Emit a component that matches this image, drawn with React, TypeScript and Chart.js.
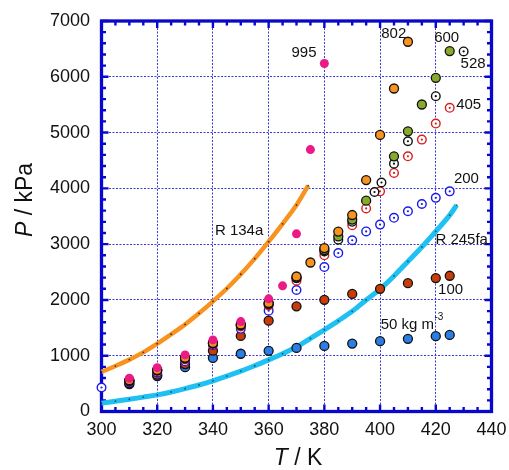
import React, { useEffect, useRef } from "react";
import { Chart, registerables } from "chart.js";
Chart.register(...registerables);

// ---------- data ----------
const pinkT = [310, 320, 330, 340, 350, 360, 365, 370, 375, 380];
const pinkP = [596, 786, 1014, 1283, 1612, 2020, 2253, 3185, 4695, 6238];

const d802T = [310, 320, 330, 340, 350, 360, 370, 375, 380, 385, 390, 395, 400, 405, 410];
const d802P = [560, 745, 965, 1230, 1560, 1945, 2420, 2671, 2930, 3225, 3522, 4148, 4958, 5790, 6628];

const d600T = [310, 320, 330, 340, 350, 360, 370, 380, 385, 390, 395, 405, 410, 415, 420, 425];
const d600P = [555, 740, 955, 1225, 1550, 1935, 2400, 2895, 3139, 3440, 3779, 4575, 5023, 5503, 5982, 6460];

const d528T = [310, 320, 330, 340, 350, 360, 370, 380, 385, 390, 398, 400.5, 405, 410, 420, 430];
const d528P = [550, 735, 950, 1220, 1545, 1925, 2390, 2870, 3080, 3400, 3935, 4105, 4443, 4844, 5652, 6454];

const d405T = [310, 320, 330, 340, 350, 360, 370, 380, 390, 395, 400, 405, 410, 415, 420, 425];
const d405P = [545, 725, 935, 1205, 1525, 1900, 2345, 2800, 3340, 3640, 3946, 4276, 4575, 4874, 5162, 5444];

const d200T = [300, 310, 320, 330, 340, 350, 360, 370, 380, 385, 390, 395, 400, 405, 410, 415, 420, 425];
const d200P = [430, 530, 700, 900, 1190, 1482, 1808, 2178, 2590, 2840, 3070, 3228, 3350, 3472, 3590, 3720, 3830, 3946];

const d100T = [310, 320, 330, 340, 350, 360, 370, 380, 390, 400, 410, 420, 425];
const d100P = [505, 660, 850, 1090, 1355, 1628, 1885, 2002, 2107, 2199, 2301, 2391, 2433];

const d50T = [310, 320, 330, 340, 350, 360, 370, 380, 390, 400, 410, 420, 425];
const d50P = [490, 635, 795, 960, 1035, 1088, 1140, 1176, 1218, 1260, 1302, 1350, 1373];

const r134aT = [300, 305, 310, 315, 320, 325, 330, 335, 340, 345, 350, 355, 360, 365, 370, 374.2];
const r134aP = [710, 815, 930, 1060, 1215, 1385, 1560, 1760, 1975, 2205, 2460, 2740, 3045, 3365, 3700, 4050];

const r245T = [300, 305, 310, 315, 320, 325, 330, 335, 340, 345, 350, 355, 360, 365, 370, 375, 380, 385, 390, 395, 400, 405, 410, 415, 420, 425, 427.5];
const r245P = [150, 185, 220, 258, 298, 350, 410, 475, 550, 635, 725, 820, 925, 1035, 1160, 1310, 1465, 1625, 1795, 2000, 2195, 2430, 2690, 2950, 3230, 3520, 3700];

// axis ranges / ticks
const xMin = 300, xMax = 440, xMajor = 20, xMinor = 5;
const yMin = 0, yMax = 7000, yMajor = 1000, yMinor = 200;

// text annotations (data coordinates)
const noteText = ["995", "802", "600", "528", "405", "200", "R 134a", "R 245fa", "100"];
const noteT = [372.7, 404.9, 423.9, 433.4, 431.8, 431.0, 349.4, 429.3, 425.3];
const noteP = [6434, 6776, 6704, 6237, 5501, 4173, 3240, 3078, 2181];
const unitText = "50 kg m";
const unitSup = "-3";
const unitT = 400.2;
const unitP = 1553;

const FONT = '"Liberation Sans", Arial, Helvetica, sans-serif';
const FRAME = "#0808cc";

const pts = (xs: number[], ys: number[]) => xs.map((x, i) => ({ x, y: ys[i] }));

const framePlugin = {
  id: "framePlugin",
  beforeDatasetsDraw(chart: any) {
    const { ctx, chartArea: a, scales } = chart;
    const xs = scales.x, ys = scales.y;
    ctx.save();
    ctx.strokeStyle = FRAME;
    ctx.lineWidth = 2.4;
    ctx.beginPath();
    for (let t = xMin; t <= xMax; t += xMinor) {
      const px = xs.getPixelForValue(t);
      const len = t % xMajor === 0 ? 7 : 4.5;
      ctx.moveTo(px, a.bottom); ctx.lineTo(px, a.bottom - len);
      ctx.moveTo(px, a.top); ctx.lineTo(px, a.top + len);
    }
    for (let p = yMin; p <= yMax; p += yMinor) {
      const py = ys.getPixelForValue(p);
      const len = p % yMajor === 0 ? 7 : 4.5;
      ctx.moveTo(a.left, py); ctx.lineTo(a.left + len, py);
      ctx.moveTo(a.right, py); ctx.lineTo(a.right - len, py);
    }
    ctx.stroke();
    ctx.lineWidth = 3.3;
    ctx.strokeRect(a.left, a.top, a.right - a.left, a.bottom - a.top);
    ctx.restore();
  },
  afterDatasetDraw(chart: any, args: any) {
    const ds = chart.data.datasets[args.index];
    if (!ds.centerDot) return;
    const ctx = chart.ctx;
    ctx.save();
    ctx.fillStyle = ds.pointBorderColor;
    for (const el of args.meta.data) {
      ctx.beginPath();
      ctx.arc(el.x, el.y, 1.1, 0, Math.PI * 2);
      ctx.fill();
    }
    ctx.restore();
  },
  afterDraw(chart: any) {
    const { ctx, scales } = chart;
    const xs = scales.x, ys = scales.y;
    ctx.save();
    ctx.fillStyle = "#111";
    ctx.textBaseline = "middle";
    ctx.textAlign = "center";
    ctx.font = `15px ${FONT}`;
    noteText.forEach((t, i) => {
      ctx.fillText(t, xs.getPixelForValue(noteT[i]), ys.getPixelForValue(noteP[i]));
    });
    ctx.textAlign = "left";
    const ux = xs.getPixelForValue(unitT), uy = ys.getPixelForValue(unitP);
    ctx.fillText(unitText, ux, uy);
    const uw = ctx.measureText(unitText).width;
    ctx.font = `10px ${FONT}`;
    ctx.fillText(unitSup, ux + uw + 0.5, uy - 8);

    // axis titles
    const drawTitle = (italic: string, rest: string, cx: number, cy: number, rot: number) => {
      ctx.save();
      ctx.translate(cx, cy);
      ctx.rotate(rot);
      ctx.font = `italic 23px ${FONT}`;
      const w1 = ctx.measureText(italic).width;
      ctx.font = `23px ${FONT}`;
      const w2 = ctx.measureText(rest).width;
      const x0 = -(w1 + w2) / 2;
      ctx.textAlign = "left";
      ctx.textBaseline = "middle";
      ctx.font = `italic 23px ${FONT}`;
      ctx.fillText(italic, x0, 0);
      ctx.font = `23px ${FONT}`;
      ctx.fillText(rest, x0 + w1, 0);
      ctx.restore();
    };
    drawTitle("T", " / K", 298, 459, 0);
    drawTitle("P", " / kPa", 26, 200, -Math.PI / 2);
    ctx.restore();
  },
};

function pointSet(label: string, xs: number[], ys: number[], fill: string, border: string, order: number, open = false, bw = 1.3) {
  return {
    label,
    data: pts(xs, ys),
    showLine: false,
    pointRadius: open ? 4.3 : 4.5,
    pointBackgroundColor: fill,
    pointBorderColor: border,
    pointBorderWidth: bw,
    order,
    centerDot: open,
    clip: false,
  };
}

export default function App() {
  const ref = useRef<HTMLCanvasElement | null>(null);
  useEffect(() => {
    if (!ref.current) return;
    const gridColor = "rgba(25,25,215,0.85)";
    const chart = new Chart(ref.current, {
      type: "scatter",
      data: {
        datasets: [
          pointSet("995", pinkT, pinkP, "#ec1a84", "#ec1a84", 0, false, 0),
          pointSet("802", d802T, d802P, "#f7931e", "#111", 1),
          pointSet("600", d600T, d600P, "#88aa2a", "#111", 2),
          pointSet("528", d528T, d528P, "#ffffff", "#111", 3, true, 1.4),
          pointSet("405", d405T, d405P, "#ffffff", "#d81e1e", 4, true, 1.4),
          pointSet("200", d200T, d200P, "#ffffff", "#1a1ae6", 5, true, 1.4),
          pointSet("100", d100T, d100P, "#c83c0a", "#111", 6),
          pointSet("50", d50T, d50P, "#2a7ee6", "#111", 7),
          {
            label: "R 134a",
            data: pts(r134aT, r134aP),
            showLine: true,
            borderColor: "#f7931e",
            borderWidth: 4.5,
            cubicInterpolationMode: "monotone",
            pointRadius: 0.9,
            pointBorderWidth: 0,
            pointBackgroundColor: "rgba(40,20,0,0.8)",
            order: 8,
            clip: false,
          } as any,
          {
            label: "R 245fa",
            data: pts(r245T, r245P),
            showLine: true,
            borderColor: "#1ec1f2",
            borderWidth: 5,
            cubicInterpolationMode: "monotone",
            pointRadius: 0.9,
            pointBorderWidth: 0,
            pointBackgroundColor: "rgba(0,40,60,0.7)",
            order: 9,
            clip: false,
          } as any,
        ] as any,
      },
      options: {
        animation: false,
        responsive: false,
        devicePixelRatio: 1,
        events: [],
        layout: { padding: { left: 0, top: 21, right: 17.5, bottom: 0 } },
        plugins: { legend: { display: false }, tooltip: { enabled: false } },
        scales: {
          x: {
            type: "linear",
            min: xMin,
            max: xMax,
            ticks: { stepSize: xMajor, color: "#111", font: { family: FONT, size: 18 }, padding: 8, maxRotation: 0, autoSkip: false, callback: (v: any) => String(v) },
            grid: { color: gridColor, lineWidth: 1, drawTicks: false },
            border: { display: false, dash: [2, 1.5] },
            afterFit: (s: any) => { s.height = 58.5; s.paddingLeft = 0; s.paddingRight = 0; },
          },
          y: {
            type: "linear",
            min: yMin,
            max: yMax,
            ticks: { stepSize: yMajor, color: "#111", font: { family: FONT, size: 18 }, padding: 11.5, autoSkip: false, callback: (v: any) => String(v) },
            grid: { color: gridColor, lineWidth: 1, drawTicks: false },
            border: { display: false, dash: [2, 1.5] },
            afterFit: (s: any) => { s.width = 101.5; s.paddingTop = 0; s.paddingBottom = 0; },
          },
        },
      } as any,
      plugins: [framePlugin],
    });
    return () => chart.destroy();
  }, []);
  return (
    <div style={{ position: "absolute", left: 0, top: 0, width: 509, height: 470, background: "#fff" }}>
      <canvas ref={ref} width={509} height={470} style={{ display: "block" }} />
    </div>
  );
}
